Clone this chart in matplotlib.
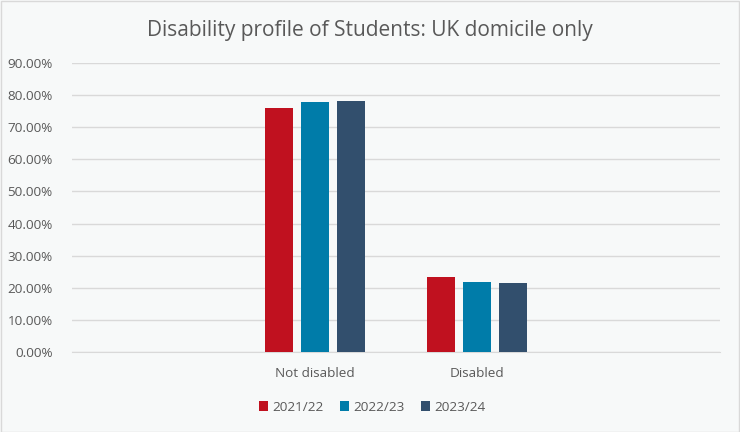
import matplotlib
matplotlib.use("Agg")
import matplotlib.pyplot as plt
from matplotlib.ticker import FuncFormatter
from matplotlib.patches import Rectangle
import numpy as np

categories = ["Not disabled", "Disabled"]
series = ["2021/22", "2022/23", "2023/24"]
values = {
    "2021/22": [76.1, 23.5],
    "2022/23": [78.0, 21.7],
    "2023/24": [78.1, 21.5],
}
colors = ["#C0111F", "#007CA9", "#324F6D"]

plt.rcParams['font.family'] = ['Open Sans', 'DejaVu Sans']
txt = "#595959"
bg = "#F7F9F9"

fig = plt.figure(figsize=(7.4, 4.32), dpi=100, facecolor=bg)
fig.add_artist(Rectangle((0.001, 0.001), 0.997, 0.997, transform=fig.transFigure,
                         fill=False, edgecolor="#D9D9D9", linewidth=1))
ax = fig.add_axes([72/740, (432-352)/432, 648/740, (352-63)/432])
ax.set_facecolor(bg)

x = np.arange(len(categories))
width = 0.173
step = 0.222
for i, s in enumerate(series):
    ax.bar(x + (i - 1) * step, values[s], width=width, color=colors[i], label=s, zorder=3)

ax.set_xlim(-1.5, 2.5)
ax.set_ylim(0, 90)
ax.set_yticks(np.arange(0, 91, 10))
ax.yaxis.set_major_formatter(FuncFormatter(lambda v, p: f"{v:.2f}%"))
ax.grid(axis='y', color="#D9D9D9", linewidth=1, zorder=0)
for sp in ax.spines.values():
    sp.set_visible(False)
ax.spines['bottom'].set_visible(True)
ax.spines['bottom'].set_color("#D9D9D9")
ax.tick_params(axis='both', length=0, colors=txt, labelsize=9.7)
ax.tick_params(axis='y', pad=14)
ax.tick_params(axis='x', pad=11)
ax.set_xticks(x)
ax.set_xticklabels(categories)

fig.text(0.5, 0.93, "Disability profile of Students: UK domicile only",
         ha='center', va='center', fontsize=15, color=txt)

leg = fig.legend(loc='center', bbox_to_anchor=(0.503, 0.057), ncol=3, frameon=False,
                 fontsize=9.7, handlelength=0.7, handleheight=0.7, handletextpad=0.3,
                 columnspacing=1.2)
for t in leg.get_texts():
    t.set_color(txt)

fig.savefig("out.png", dpi=100, facecolor=bg)
